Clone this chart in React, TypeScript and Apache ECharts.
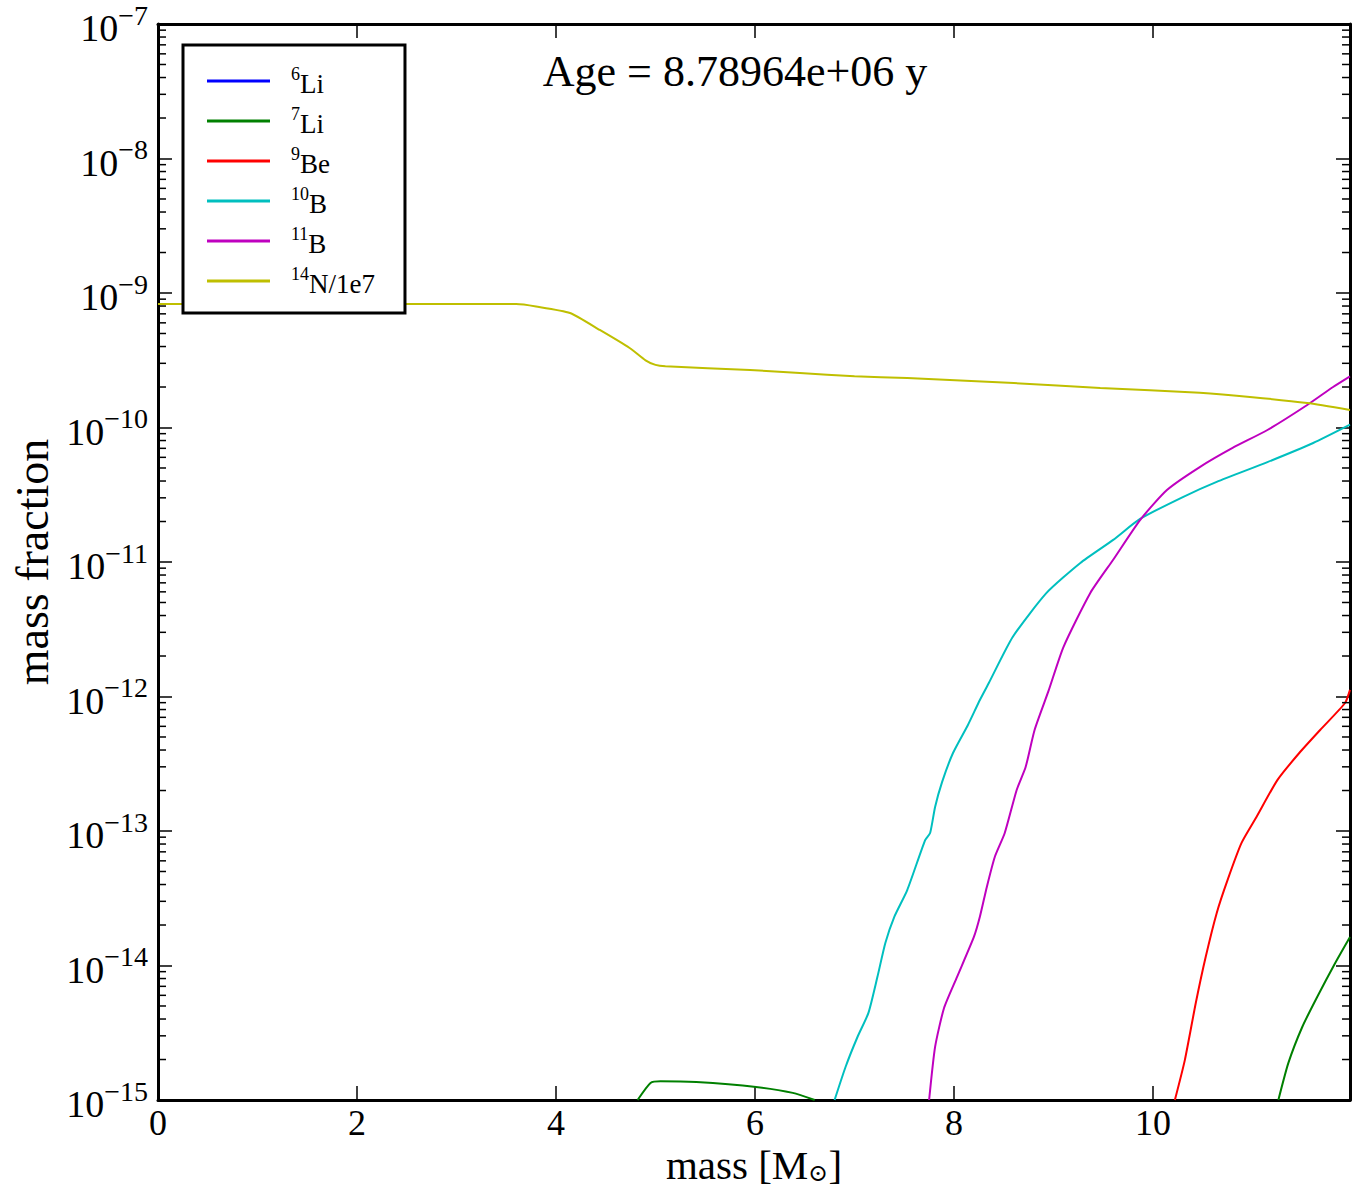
import React, { useEffect, useRef } from "react";
import * as echarts from "echarts";

const FONT = "'Liberation Serif', 'DejaVu Serif', serif";

const X_MIN = 0;
const X_MAX = 11.98;
const Y_MIN = 1e-15;
const Y_MAX = 1e-7;
const X_INTERVAL = 2;

const seriesNames = ["6Li", "7Li", "9Be", "10B", "11B", "14N/1e7"];
const legendLabels: Record<string, string> = {
  "6Li": "{sup|6}{n|Li}",
  "7Li": "{sup|7}{n|Li}",
  "9Be": "{sup|9}{n|Be}",
  "10B": "{sup|10}{n|B}",
  "11B": "{sup|11}{n|B}",
  "14N/1e7": "{sup|14}{n|N/1e7}",
};
const colors = ["#0000ff", "#008000", "#ff0000", "#00bfbf", "#bf00bf", "#bfbf00"];

const titleText = "Age = 8.78964e+06 y";
const xAxisName = "{n|mass [M}{sub|⊙}{n|]}";
const yAxisName = "mass fraction";

// [mass (Msun), mass fraction]
const li6: [number, number][] = []; // entirely below 1e-15
const li7: [number, number | null][] = [
  [4.82, 1e-15], [4.95, 1.34e-15], [5.05, 1.38e-15], [5.41, 1.36e-15],
  [6.01, 1.25e-15], [6.38, 1.13e-15], [6.6, 1e-15],
  [9.0, null],
  [11.26, 1e-15], [11.36, 1.88e-15], [11.5, 3.49e-15], [11.65, 5.83e-15],
  [11.83, 1.04e-14], [11.98, 1.63e-14],
];
const be9: [number, number][] = [
  [10.22, 1e-15], [10.32, 1.98e-15], [10.43, 5.26e-15], [10.53, 1.16e-14],
  [10.64, 2.45e-14], [10.75, 4.33e-14], [10.89, 8.15e-14], [11.04, 1.27e-13],
  [11.25, 2.39e-13], [11.47, 3.8e-13], [11.68, 5.64e-13], [11.93, 8.95e-13],
  [11.98, 1.12e-12],
];
const b10: [number, number][] = [
  [6.8, 1e-15], [6.91, 1.76e-15], [7.03, 2.94e-15], [7.14, 4.44e-15],
  [7.23, 8.2e-15], [7.31, 1.47e-14], [7.4, 2.3e-14], [7.53, 3.64e-14],
  [7.71, 8.57e-14], [7.76, 9.66e-14], [7.81, 1.51e-13], [7.88, 2.31e-13],
  [7.99, 3.8e-13], [8.14, 6.14e-13], [8.26, 9.42e-13], [8.35, 1.26e-12],
  [8.59, 2.77e-12], [8.93, 5.89e-12], [9.27, 9.84e-12], [9.6, 1.46e-11],
  [9.87, 2.09e-11], [10.3, 3.04e-11], [10.64, 3.94e-11], [11.15, 5.53e-11],
  [11.61, 7.67e-11], [11.98, 1.05e-10],
];
const b11: [number, number][] = [
  [7.75, 1e-15], [7.81, 2.48e-15], [7.9, 4.83e-15], [8.03, 8.2e-15],
  [8.2, 1.63e-14], [8.26, 2.3e-14], [8.33, 3.84e-14], [8.41, 6.41e-14],
  [8.51, 9.66e-14], [8.63, 2.02e-13], [8.72, 2.99e-13], [8.81, 5.64e-13],
  [8.95, 1.1e-12], [9.1, 2.33e-12], [9.37, 5.89e-12], [9.6, 1.04e-11],
  [9.87, 2.05e-11], [10.14, 3.43e-11], [10.47, 5.08e-11], [10.8, 7.05e-11],
  [11.15, 9.58e-11], [11.55, 1.47e-10], [11.81, 2.0e-10], [11.98, 2.4e-10],
];
const n14: [number, number][] = [
  [0, 8.28e-10], [1, 8.28e-10], [2, 8.28e-10], [3, 8.28e-10], [3.6, 8.28e-10],
  [3.8, 7.94e-10], [4.14, 7.1e-10], [4.44, 5.31e-10], [4.74, 3.9e-10],
  [4.9, 3.16e-10], [5.0, 2.92e-10], [5.1, 2.85e-10], [5.95, 2.68e-10],
  [6.45, 2.54e-10], [7.0, 2.4e-10], [7.53, 2.33e-10], [8.6, 2.14e-10],
  [9.47, 1.97e-10], [10.47, 1.81e-10], [11.0, 1.68e-10], [11.55, 1.52e-10],
  [11.98, 1.35e-10],
];
const seriesData = [li6, li7, be9, b10, b11, n14];

// log-axis minor tick values (2..9 x 10^e)
const minorTickValues: number[] = [];
for (let e = -15; e < -7; e++) {
  for (let k = 2; k <= 9; k++) minorTickValues.push(k * Math.pow(10, e));
}

export default function App() {
  const ref = useRef<HTMLDivElement>(null);
  useEffect(() => {
    const chart = echarts.init(ref.current!, null, { renderer: "svg" });
    const axisLine = { show: true, onZero: false, lineStyle: { color: "#000", width: 3 } };
    const majorTick = { show: true, inside: true, length: 14, lineStyle: { color: "#000", width: 1.5 } };
    const yRich = {
      b: { fontSize: 38, fontFamily: FONT, color: "#000", lineHeight: 46, verticalAlign: "bottom" },
      s: { fontSize: 28, fontFamily: FONT, color: "#000", lineHeight: 32, verticalAlign: "top" },
    };
    const option: any = {
      animation: false,
      backgroundColor: "#fff",
      grid: { left: 158, top: 24, right: 6, bottom: 89, containLabel: false, outerBoundsMode: "none" },
      xAxis: [
        {
          type: "value", min: X_MIN, max: X_MAX, interval: X_INTERVAL, position: "bottom",
          axisLine, axisTick: majorTick, splitLine: { show: false },
          axisLabel: { show: true, margin: 8, fontSize: 36, lineHeight: 30, fontFamily: FONT, color: "#000", showMaxLabel: false },
          name: xAxisName,
          nameLocation: "middle", nameGap: 44, nameMoveOverlap: false,
          nameTextStyle: {
            fontSize: 41, fontFamily: FONT, color: "#000",
            rich: {
              n: { fontSize: 41, fontFamily: FONT, color: "#000", lineHeight: 40, verticalAlign: "top" },
              sub: { fontSize: 24, fontFamily: FONT, color: "#000", lineHeight: 22, verticalAlign: "top", padding: [17, 0, 0, 0] },
            },
          },
        },
        {
          type: "value", min: X_MIN, max: X_MAX, interval: X_INTERVAL, position: "top",
          axisLine, axisTick: majorTick, splitLine: { show: false }, axisLabel: { show: false },
        },
      ],
      yAxis: [
        {
          type: "log", logBase: 10, min: Y_MIN, max: Y_MAX, position: "left",
          axisLine, axisTick: majorTick, splitLine: { show: false },
          axisLabel: {
            margin: 10, formatter: (v: number) => `{b|10}{s|−${Math.abs(Math.round(Math.log10(v)))}}`,
            rich: yRich,
          },
          name: yAxisName, nameLocation: "middle", nameGap: 100,
          nameTextStyle: { fontSize: 46, fontFamily: FONT, color: "#000" },
        },
        {
          type: "log", logBase: 10, min: Y_MIN, max: Y_MAX, position: "right",
          axisLine, axisTick: majorTick, splitLine: { show: false }, axisLabel: { show: false },
        },
      ],
      legend: {
        orient: "vertical", left: 183, top: 45,
        padding: [20, 30, 16, 24], itemGap: 8, itemWidth: 63, itemHeight: 3,
        icon: "rect",
        backgroundColor: "#fff", borderColor: "#000", borderWidth: 3, borderRadius: 0,
        data: seriesNames, selectedMode: false,
        formatter: (name: string) => legendLabels[name],
        textStyle: {
          padding: [0, 0, 0, 16],
          rich: {
            sup: { fontSize: 18, fontFamily: FONT, color: "#000", lineHeight: 22, verticalAlign: "top" },
            n: { fontSize: 27, fontFamily: FONT, color: "#000", lineHeight: 32, verticalAlign: "bottom" },
          },
        },
      },
      graphic: [
        {
          type: "text", x: 735, y: 71, z: 10,
          style: { text: titleText, font: `44px ${FONT}`, fill: "#000", textAlign: "center", textVerticalAlign: "middle" },
        },
      ],
      series: [
        ...seriesNames.map((name, i) => ({
          name, type: "line", data: seriesData[i], xAxisIndex: 0, yAxisIndex: 0,
          symbol: "none", showSymbol: false, smooth: 0.2, connectNulls: false,
          lineStyle: { color: colors[i], width: 2 }, itemStyle: { color: colors[i] },
          emphasis: { disabled: true }, clip: true, z: 3,
        })),
        {
          name: "minorTicks", type: "custom", xAxisIndex: 0, yAxisIndex: 0, silent: true, clip: false,
          data: minorTickValues.map((v) => [X_MIN, v]),
          renderItem: (_p: any, api: any) => {
            const v = api.value(1);
            const l = api.coord([X_MIN, v]);
            const r = api.coord([X_MAX, v]);
            const st = { stroke: "#000", lineWidth: 1.5 };
            return {
              type: "group",
              children: [
                { type: "line", shape: { x1: l[0], y1: l[1], x2: l[0] + 8, y2: l[1] }, style: st },
                { type: "line", shape: { x1: r[0], y1: r[1], x2: r[0] - 8, y2: r[1] }, style: st },
              ],
            };
          },
          z: 4,
        },
      ],
    };
    chart.setOption(option);
    return () => chart.dispose();
  }, []);
  return (
    <div
      ref={ref}
      style={{ position: "absolute", left: 0, top: 0, width: 1356, height: 1189, background: "#fff" }}
    />
  );
}
